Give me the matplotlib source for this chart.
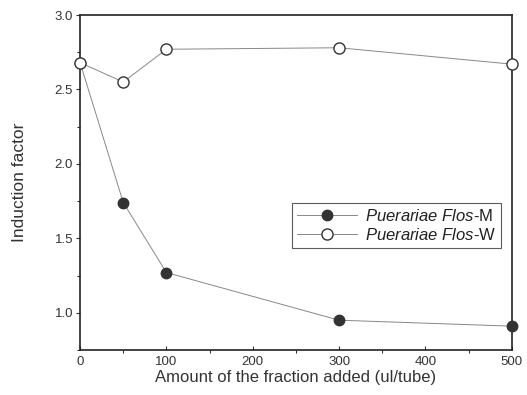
import matplotlib
matplotlib.use("Agg")
import matplotlib.pyplot as plt
from matplotlib.ticker import MultipleLocator

plt.rcParams['font.family'] = ['Liberation Sans', 'DejaVu Sans']
plt.rcParams['mathtext.fontset'] = 'custom'
plt.rcParams['mathtext.it'] = 'Liberation Sans:italic'
plt.rcParams['mathtext.rm'] = 'Liberation Sans'

amount = [0, 50, 100, 300, 500]
flos_m = [2.68, 1.74, 1.27, 0.95, 0.91]
flos_w = [2.68, 2.55, 2.77, 2.78, 2.67]

fig = plt.figure(figsize=(5.27, 3.95), dpi=100)
ax = fig.add_axes([0.152, 0.114, 0.819, 0.848])

ax.plot(amount, flos_m, '-', color='#888888', lw=0.7, marker='o', ms=7.5,
        mfc='#333333', mec='#333333', label='$\\mathit{Puerariae\\ Flos}$-M', clip_on=False, zorder=3)
ax.plot(amount, flos_w, '-', color='#888888', lw=0.7, marker='o', ms=8,
        mfc='white', mec='#333333', mew=1.0, label='$\\mathit{Puerariae\\ Flos}$-W', clip_on=False, zorder=3)

ax.set_xlim(0, 500)
ax.set_ylim(0.75, 3.0)
ax.xaxis.set_major_locator(MultipleLocator(100))
ax.xaxis.set_minor_locator(MultipleLocator(50))
ax.yaxis.set_major_locator(MultipleLocator(0.5))
ax.yaxis.set_minor_locator(MultipleLocator(0.25))
ax.set_yticks([1.0, 1.5, 2.0, 2.5, 3.0])
ax.set_yticklabels(['1.0', '1.5', '2.0', '2.5', '3.0'])
ax.tick_params(axis='both', labelsize=9.5, colors='#333333', length=3, width=0.8)
ax.tick_params(axis='both', which='minor', length=2, width=0.6)
ax.tick_params(axis='x', direction='in', pad=4)
ax.tick_params(axis='y', pad=2)
for s in ax.spines.values():
    s.set_linewidth(1.2)
    s.set_color('#222222')

ax.set_xlabel('Amount of the fraction added (ul/tube)', fontsize=12, color='#333333', labelpad=2)
ax.set_ylabel('Induction factor', fontsize=12.5, color='#333333', labelpad=20)

leg = ax.legend(loc='upper left', bbox_to_anchor=(0.49, 0.44), fontsize=12, frameon=True,
                fancybox=False, edgecolor='#333333', handlelength=3.6, borderpad=0.3,
                labelspacing=0.2, handletextpad=0.5, borderaxespad=0, handleheight=0.7)
leg.get_frame().set_linewidth(0.8)
for t in leg.get_texts():
    t.set_color('#222222')

fig.savefig('out.png', dpi=100)
